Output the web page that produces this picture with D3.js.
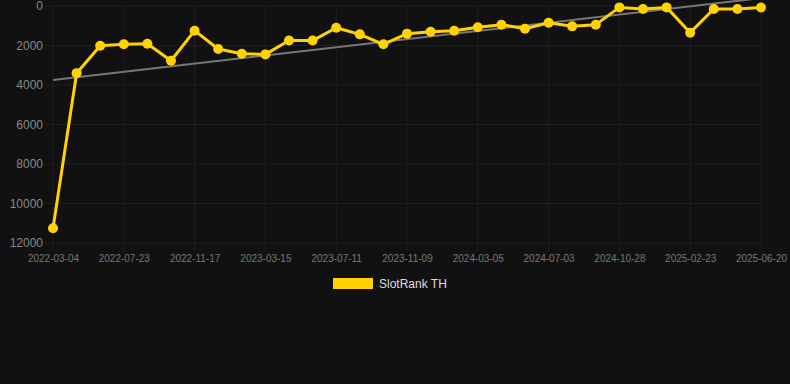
<!DOCTYPE html>
<html><head><meta charset="utf-8">
<script src="https://cdn.jsdelivr.net/npm/d3@7"></script>
<style>
html,body{margin:0;padding:0;background:#111111;}
svg{display:block;font-family:"Liberation Sans",Arial,Helvetica,sans-serif;}
</style></head>
<body><svg id="c" width="790" height="384"></svg>
<script>
const dates = ["2022-03-04","2022-04-20","2022-06-06","2022-07-23","2022-08-31","2022-10-09","2022-11-17","2022-12-26","2023-02-04","2023-03-15","2023-04-23","2023-06-01","2023-07-11","2023-08-20","2023-09-30","2023-11-09","2023-12-18","2024-01-26","2024-03-05","2024-04-14","2024-05-24","2024-07-03","2024-08-11","2024-09-19","2024-10-28","2024-12-06","2025-01-14","2025-02-23","2025-04-03","2025-05-12","2025-06-20"];
const ranks = [11250,3400,2010,1940,1910,2770,1250,2180,2415,2450,1750,1750,1100,1435,1940,1400,1300,1250,1080,945,1150,845,1030,945,70,150,70,1350,150,150,80];
const trendStart = 3750, trendEnd = -400;
const yTicks = [0,2000,4000,6000,8000,10000,12000];
const xTickLabels = dates.filter((d,i)=>i%3===0);
const seriesName = "SlotRank TH";

(function(){
const svg = d3.select("#c");
const pL=53, pR=761, pT=6, pB=243;
const x = d3.scalePoint().domain(dates).range([pL,pR]);
const y = d3.scaleLinear().domain([0,12000]).range([pT,pB]);

const g = svg.append("g");
g.selectAll(".hg").data(yTicks).enter().append("line")
  .attr("x1",pL-8).attr("x2",pR).attr("y1",d=>y(d)).attr("y2",d=>y(d))
  .attr("stroke","#1f1f1f").attr("stroke-width",1);
g.selectAll(".vg").data(xTickLabels).enter().append("line")
  .attr("x1",d=>x(d)).attr("x2",d=>x(d)).attr("y1",pT).attr("y2",pB+8)
  .attr("stroke","#1f1f1f").attr("stroke-width",1);

const ya = svg.append("g").attr("transform",`translate(${pL-10},0)`)
  .call(d3.axisLeft(y).tickValues(yTicks).tickSize(0).tickPadding(0).tickFormat(d3.format("d")));
ya.select(".domain").remove();
ya.selectAll("text").attr("fill","#888").attr("font-size","12px").attr("font-family","Liberation Sans, Arial");

const xa = svg.append("g").attr("transform",`translate(0,${pB})`)
  .call(d3.axisBottom(x).tickValues(xTickLabels).tickSize(0).tickPadding(12));
xa.select(".domain").remove();
xa.selectAll("text").attr("fill","#777").attr("font-size","10px").attr("font-family","Liberation Sans, Arial");

svg.append("line")
  .attr("x1",x(dates[0])).attr("y1",y(trendStart))
  .attr("x2",x(dates[dates.length-1])).attr("y2",y(trendEnd))
  .attr("stroke","#777").attr("stroke-width",2);

const data = dates.map((d,i)=>({d,v:ranks[i]}));
svg.append("path").datum(data)
  .attr("d",d3.line().x(p=>x(p.d)).y(p=>y(p.v)))
  .attr("fill","none").attr("stroke","#FFD200").attr("stroke-width",3).attr("stroke-linejoin","round");
svg.selectAll(".pt").data(data).enter().append("circle")
  .attr("cx",p=>x(p.d)).attr("cy",p=>y(p.v)).attr("r",5)
  .attr("fill","#FFD200");

svg.append("rect").attr("x",333).attr("y",278).attr("width",40).attr("height",11).attr("fill","#FFD200");
svg.append("text").attr("x",379).attr("y",288).text(seriesName)
  .attr("fill","#dddddd").attr("font-size","12px");
})();
</script></body></html>
